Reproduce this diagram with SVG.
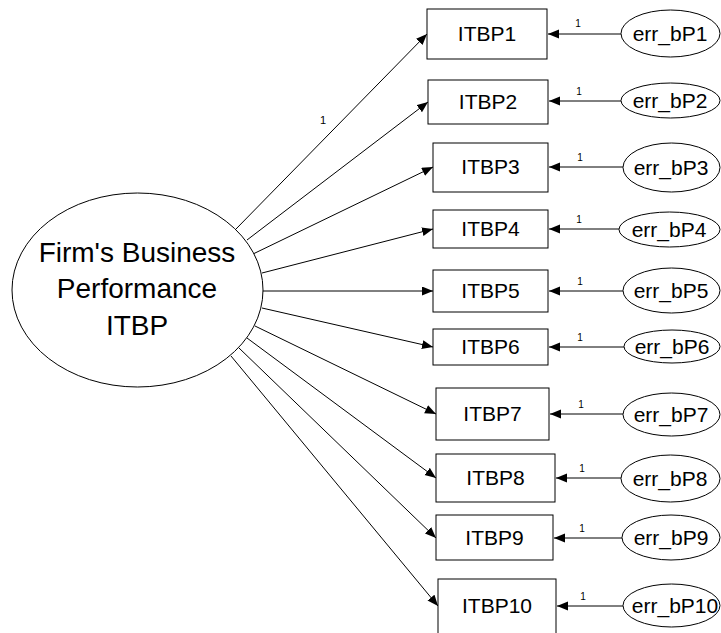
<svg xmlns="http://www.w3.org/2000/svg" width="721" height="633" viewBox="0 0 721 633">
  <style>
    .box { fill: #ffffff; stroke: #000000; stroke-width: 1; }
    .ell { fill: #ffffff; stroke: #000000; stroke-width: 1; }
    .edge { stroke: #000000; stroke-width: 1; fill: none; marker-end: url(#arrow); }
    .lbl { font-family: "Liberation Sans", Arial, sans-serif; font-size: 21px; fill: #000000; text-anchor: middle; }
    .big { font-family: "Liberation Sans", Arial, sans-serif; font-size: 28px; fill: #000000; text-anchor: middle; }
    .w { font-family: "Liberation Sans", Arial, sans-serif; font-size: 10px; fill: #000000; text-anchor: middle; }
  </style>
  <defs>
    <marker id="arrow" markerUnits="userSpaceOnUse" markerWidth="12" markerHeight="10" refX="11" refY="4.5" orient="auto">
      <path d="M0,0 L11,4.5 L0,9 Z" fill="#000000"/>
    </marker>
  </defs>
  <rect width="721" height="633" fill="#ffffff"/>

  <!-- connectors -->
  <g id="connectors">
    <!-- latent factor to indicators -->
    <line class="edge" x1="236" y1="229" x2="427" y2="34"/>
    <line class="edge" x1="247" y1="240" x2="428" y2="102"/>
    <line class="edge" x1="253" y1="254" x2="433" y2="167"/>
    <line class="edge" x1="262" y1="273" x2="433" y2="229"/>
    <line class="edge" x1="263" y1="291" x2="433" y2="291"/>
    <line class="edge" x1="262" y1="308" x2="433" y2="347"/>
    <line class="edge" x1="255" y1="326" x2="436" y2="414"/>
    <line class="edge" x1="247" y1="338" x2="436" y2="478"/>
    <line class="edge" x1="239" y1="348" x2="436" y2="538"/>
    <line class="edge" x1="231" y1="356" x2="438" y2="606"/>
    <text class="w" x="323" y="124" style="font-size:11px">1</text>

    <!-- error terms to indicators -->
    <line class="edge" x1="621" y1="34" x2="548" y2="34"/>
    <line class="edge" x1="621" y1="101" x2="549" y2="101"/>
    <line class="edge" x1="623" y1="167" x2="549" y2="167"/>
    <line class="edge" x1="619" y1="229" x2="549" y2="229"/>
    <line class="edge" x1="623" y1="291" x2="549" y2="291"/>
    <line class="edge" x1="624" y1="347" x2="549" y2="347"/>
    <line class="edge" x1="623" y1="414" x2="550" y2="414"/>
    <line class="edge" x1="621" y1="478" x2="556" y2="478"/>
    <line class="edge" x1="622" y1="538" x2="554" y2="538"/>
    <line class="edge" x1="623" y1="606" x2="557" y2="606"/>
    <text class="w" x="578" y="27">1</text>
    <text class="w" x="579" y="95">1</text>
    <text class="w" x="580" y="161">1</text>
    <text class="w" x="579" y="223">1</text>
    <text class="w" x="580" y="285">1</text>
    <text class="w" x="580" y="341">1</text>
    <text class="w" x="581" y="408">1</text>
    <text class="w" x="582" y="472">1</text>
    <text class="w" x="582" y="532">1</text>
    <text class="w" x="583" y="600">1</text>
  </g>

  <!-- latent factor -->
  <g id="ITBP">
    <ellipse class="ell" cx="137.5" cy="290" rx="125.5" ry="97"/>
    <text class="big" x="137" y="262">Firm's Business</text>
    <text class="big" x="137" y="298">Performance</text>
    <text class="big" x="137" y="335">ITBP</text>
  </g>

  <!-- observed indicators -->
  <g id="ITBP1"><rect class="box" x="427" y="9" width="120" height="50"/><text class="lbl" x="487" y="41">ITBP1</text></g>
  <g id="ITBP2"><rect class="box" x="428" y="80" width="120" height="44"/><text class="lbl" x="488" y="109">ITBP2</text></g>
  <g id="ITBP3"><rect class="box" x="433" y="143" width="115" height="49"/><text class="lbl" x="490.5" y="174">ITBP3</text></g>
  <g id="ITBP4"><rect class="box" x="433" y="210" width="115" height="38"/><text class="lbl" x="490.5" y="236">ITBP4</text></g>
  <g id="ITBP5"><rect class="box" x="433" y="270" width="115" height="42"/><text class="lbl" x="490.5" y="298">ITBP5</text></g>
  <g id="ITBP6"><rect class="box" x="433" y="329" width="115" height="36"/><text class="lbl" x="490.5" y="354">ITBP6</text></g>
  <g id="ITBP7"><rect class="box" x="436" y="388" width="113" height="52"/><text class="lbl" x="492.5" y="421">ITBP7</text></g>
  <g id="ITBP8"><rect class="box" x="436" y="454" width="119" height="48"/><text class="lbl" x="495.5" y="485">ITBP8</text></g>
  <g id="ITBP9"><rect class="box" x="436" y="515" width="117" height="45"/><text class="lbl" x="494.5" y="545">ITBP9</text></g>
  <g id="ITBP10"><rect class="box" x="438" y="579" width="118" height="56"/><text class="lbl" x="497" y="613">ITBP10</text></g>

  <!-- error terms -->
  <g id="err_bP1"><ellipse class="ell" cx="670.5" cy="33.5" rx="49.5" ry="23.5"/><text class="lbl" x="670" y="41">err_bP1</text></g>
  <g id="err_bP2"><ellipse class="ell" cx="670.5" cy="100.5" rx="49.5" ry="17.5"/><text class="lbl" x="670" y="108">err_bP2</text></g>
  <g id="err_bP3"><ellipse class="ell" cx="671.5" cy="167.5" rx="48.5" ry="24.5"/><text class="lbl" x="671" y="175">err_bP3</text></g>
  <g id="err_bP4"><ellipse class="ell" cx="669.5" cy="229.5" rx="50.5" ry="17.5"/><text class="lbl" x="669" y="237">err_bP4</text></g>
  <g id="err_bP5"><ellipse class="ell" cx="671.5" cy="290.5" rx="48.5" ry="22.5"/><text class="lbl" x="671" y="298">err_bP5</text></g>
  <g id="err_bP6"><ellipse class="ell" cx="672" cy="346.5" rx="48" ry="16.5"/><text class="lbl" x="672" y="354">err_bP6</text></g>
  <g id="err_bP7"><ellipse class="ell" cx="671.5" cy="414.5" rx="48.5" ry="21.5"/><text class="lbl" x="671" y="422">err_bP7</text></g>
  <g id="err_bP8"><ellipse class="ell" cx="670.5" cy="478.5" rx="49.5" ry="23.5"/><text class="lbl" x="670" y="486">err_bP8</text></g>
  <g id="err_bP9"><ellipse class="ell" cx="671" cy="537.5" rx="49" ry="22.5"/><text class="lbl" x="671" y="545">err_bP9</text></g>
  <g id="err_bP10"><ellipse class="ell" cx="671.5" cy="605.5" rx="48.5" ry="21.5"/><text class="lbl" x="675" y="613">err_bP10</text></g>
</svg>
